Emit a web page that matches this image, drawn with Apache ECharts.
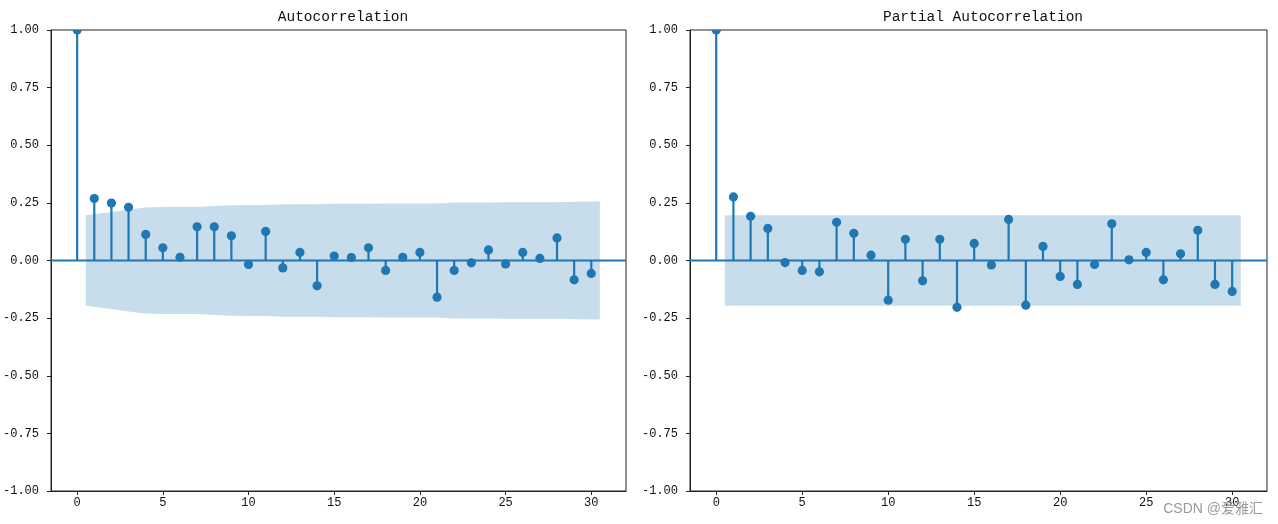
<!DOCTYPE html>
<html>
<head>
<meta charset="utf-8">
<script src="https://cdn.jsdelivr.net/npm/echarts@6/dist/echarts.min.js"></script>
<style>
html,body{margin:0;padding:0;background:#fff;}
#chart{width:1278px;height:524px;}
</style>
</head>
<body>
<div id="chart"></div>
<script>
// ---- data ----
const lags = [0,1,2,3,4,5,6,7,8,9,10,11,12,13,14,15,16,17,18,19,20,21,22,23,24,25,26,27,28,29,30];
const acfValues = [1.0,0.269,0.249,0.231,0.113,0.055,0.014,0.146,0.146,0.107,-0.017,0.126,-0.032,0.035,-0.110,0.019,0.013,0.055,-0.043,0.014,0.035,-0.159,-0.043,-0.010,0.046,-0.015,0.035,0.009,0.098,-0.084,-0.056];
const pacfValues = [1.0,0.276,0.192,0.139,-0.009,-0.043,-0.049,0.166,0.118,0.023,-0.172,0.092,-0.088,0.092,-0.203,0.074,-0.019,0.178,-0.194,0.061,-0.069,-0.104,-0.017,0.159,0.003,0.035,-0.084,0.029,0.131,-0.104,-0.134];
// half-width of the confidence band for lags 1..30
const acfBand = [0.196,0.210,0.221,0.230,0.232,0.232,0.232,0.236,0.240,0.241,0.241,0.244,0.244,0.244,0.246,0.246,0.246,0.247,0.247,0.247,0.247,0.252,0.252,0.252,0.253,0.253,0.253,0.253,0.255,0.256];
const pacfBand = [0.196,0.196,0.196,0.196,0.196,0.196,0.196,0.196,0.196,0.196,0.196,0.196,0.196,0.196,0.196,0.196,0.196,0.196,0.196,0.196,0.196,0.196,0.196,0.196,0.196,0.196,0.196,0.196,0.196,0.196];
const xTicks = [0,5,10,15,20,25,30];
const titles = ['Autocorrelation','Partial Autocorrelation'];
const watermark = 'CSDN @爱雅汇';

const BLUE = '#1f77b4';
const XMIN = -1.525, XMAX = 32.025;

function bandLags(n){
  // lags 1..n, first and last shifted by half a lag (statsmodels convention)
  const out = [];
  for (let i = 1; i <= n; i++) out.push(i);
  out[0] -= 0.5; out[out.length-1] += 0.5;
  return out;
}

function stemSeries(values, idx){
  return {
    type:'custom', xAxisIndex:idx, yAxisIndex:idx, z:2, clip:true,
    data: lags.map((l,i)=>[l, values[i]]),
    renderItem: function(params, api){
      const x = api.value(0), y = api.value(1);
      const p0 = api.coord([x,0]), p1 = api.coord([x,y]);
      return {type:'group', children:[
        {type:'line', shape:{x1:p0[0],y1:p0[1],x2:p1[0],y2:p1[1]}, style:{stroke:BLUE,lineWidth:2.2}},
        {type:'circle', shape:{cx:p1[0],cy:p1[1],r:4.6}, style:{fill:BLUE}}
      ]};
    }
  };
}

function bandSeries(band, idx){
  const bx = bandLags(band.length);
  return {
    type:'custom', xAxisIndex:idx, yAxisIndex:idx, z:3, silent:true,
    data:[[0,0]],
    renderItem: function(params, api){
      const pts = [];
      for (let i = 0; i < bx.length; i++) pts.push(api.coord([bx[i], band[i]]));
      for (let i = bx.length-1; i >= 0; i--) pts.push(api.coord([bx[i], -band[i]]));
      return {type:'polygon', shape:{points:pts}, style:{fill:BLUE, opacity:0.25}};
    }
  };
}

function zeroLine(idx){
  return {type:'line', xAxisIndex:idx, yAxisIndex:idx, z:2, symbol:'none', silent:true,
    data:[[XMIN,0],[XMAX,0]], lineStyle:{color:BLUE,width:2}};
}

const labelFont = {fontFamily:'Liberation Mono', fontSize:12, color:'#111'};

function xAxis(idx){
  return {type:'value', gridIndex:idx, min:XMIN, max:XMAX,
    splitLine:{show:false},
    axisLine:{show:true, onZero:false, lineStyle:{color:'#222',width:1}},
    axisTick:{show:true, length:4, customValues:xTicks, lineStyle:{color:'#222'}},
    axisLabel:Object.assign({customValues:xTicks, margin:6}, labelFont)};
}
function yAxis(idx){
  return {type:'value', gridIndex:idx, min:-1, max:1, interval:0.25,
    splitLine:{show:false},
    axisLine:{show:true, onZero:false, lineStyle:{color:'#222',width:1}},
    axisTick:{show:true, length:4, lineStyle:{color:'#222'}},
    axisLabel:Object.assign({margin:12, formatter:v=>v.toFixed(2)}, labelFont)};
}

const chart = echarts.init(document.getElementById('chart'), null, {renderer:'canvas'});
chart.setOption({
  animation:false,
  backgroundColor:'#fff',
  title:[
    {text:titles[0], left:338, top:5, textAlign:'center', textStyle:{fontFamily:'Liberation Mono', fontSize:14.5, fontWeight:'normal', color:'#111'}},
    {text:titles[1], left:978, top:5, textAlign:'center', textStyle:{fontFamily:'Liberation Mono', fontSize:14.5, fontWeight:'normal', color:'#111'}}
  ],
  grid:[
    {left:51, top:30, width:575, height:461, show:true, borderColor:'#222', borderWidth:1, backgroundColor:'transparent'},
    {left:690, top:30, width:577, height:461, show:true, borderColor:'#222', borderWidth:1, backgroundColor:'transparent'}
  ],
  xAxis:[xAxis(0), xAxis(1)],
  yAxis:[yAxis(0), yAxis(1)],
  series:[
    stemSeries(acfValues,0), zeroLine(0), bandSeries(acfBand,0),
    stemSeries(pacfValues,1), zeroLine(1), bandSeries(pacfBand,1)
  ],
  graphic:[
    {type:'text', right:15, bottom:8, z:100, style:{text:watermark, fill:'#9a9a9a', fontFamily:'Liberation Sans, Noto Sans CJK SC', fontSize:14}}
  ]
});
</script>
</body>
</html>
